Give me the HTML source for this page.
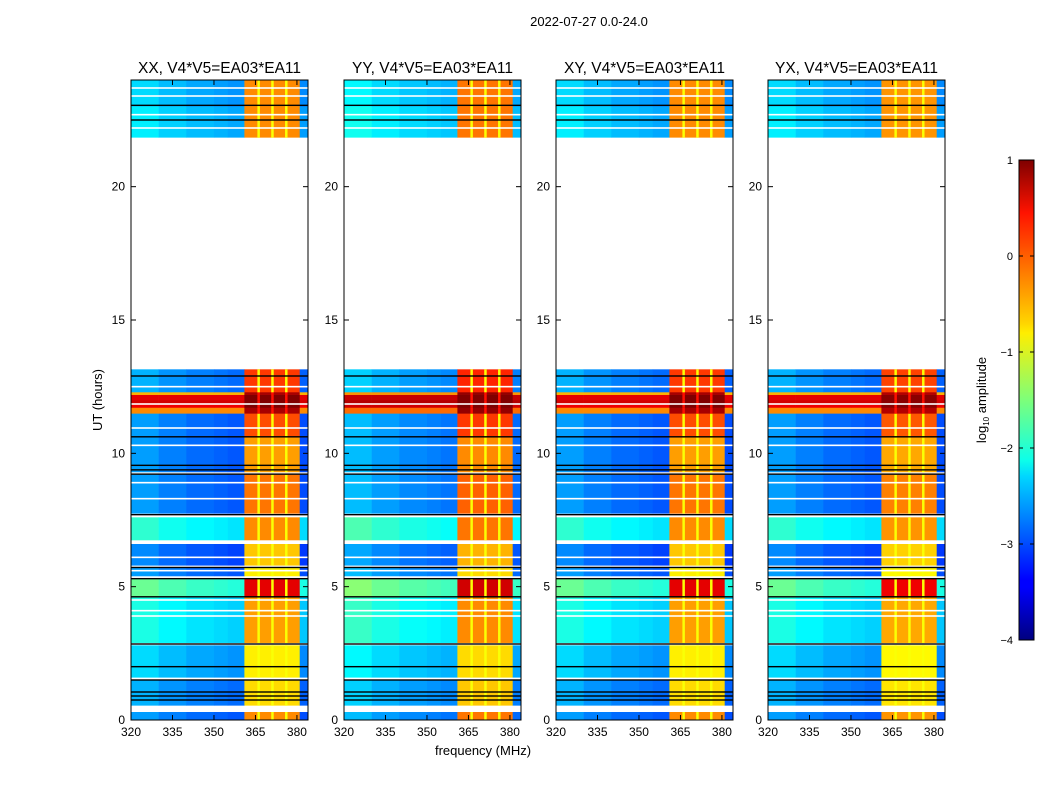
<!DOCTYPE html>
<html><head><meta charset="utf-8"><style>
body{margin:0;background:#fff;width:1050px;height:800px;overflow:hidden;font-family:"Liberation Sans",sans-serif}
svg text{font-family:"Liberation Sans",sans-serif;fill:#000}
</style></head><body>
<svg id="fig" width="1050" height="800" xmlns="http://www.w3.org/2000/svg">
<defs><linearGradient id="jetg" x1="0" y1="1" x2="0" y2="0">
<stop offset="0" stop-color="#00007f"/><stop offset="0.11" stop-color="#0000ff"/><stop offset="0.125" stop-color="#0000ff"/>
<stop offset="0.34" stop-color="#00d5ff"/><stop offset="0.375" stop-color="#0dffe9"/><stop offset="0.5" stop-color="#7dff7a"/>
<stop offset="0.64" stop-color="#ffee00"/><stop offset="0.66" stop-color="#ffd500"/><stop offset="0.89" stop-color="#ff1300"/><stop offset="1" stop-color="#7f0000"/>
</linearGradient></defs>
<text x="589" y="26" font-size="13" text-anchor="middle">2022-07-27 0.0-24.0</text>
<text x="483" y="755" font-size="13" text-anchor="middle">frequency (MHz)</text>
<text x="102" y="400" font-size="13" text-anchor="middle" transform="rotate(-90 102 400)">UT (hours)</text>
<g id="panels"></g>
<g>
<rect x="1019" y="160" width="15" height="480" fill="url(#jetg)" stroke="#000" stroke-width="1"/>
<g id="cbticks"></g>
<text x="986" y="400" font-size="13" text-anchor="middle" transform="rotate(-90 986 400)">log<tspan font-size="8" dy="3">10</tspan><tspan dy="-3"> amplitude</tspan></text>
</g>
</svg>
<script>
// ---- data ----
const panelTitles=["XX, V4*V5=EA03*EA11","YY, V4*V5=EA03*EA11","XY, V4*V5=EA03*EA11","YX, V4*V5=EA03*EA11"];
const panelLeft=[131,344,556,768];
const rfiOffset=[0,0.1,0,-0.05];
const bgOffset=[0,0.15,0,0];
// time segments (hours): start, end, background log-amp, rfi log-amp
const segStart=[0.0,0.55,1.6,2.9,4.6,5.4,5.8,6.75,7.75,9.3,10.6,11.5,11.72,11.85,12.0,12.2,12.3,21.85,23.0];
const segEnd  =[0.3,1.5,2.8,4.6,5.3,5.7,6.6,7.6,9.2,10.6,11.5,11.72,11.85,12.0,12.2,12.3,13.15,23.0,24.0];
const segBg   =[-2.8,-2.7,-2.5,-2.2,-1.8,-2.8,-2.9,-2.1,-2.8,-2.8,-2.8,-0.3,0.45,0.6,0.5,-0.5,-2.7,-2.4,-2.5];
const segRfi  =[-0.3,-0.7,-0.8,-0.4,0.5,-0.8,-0.6,-0.3,-0.2,-0.4,0.0,0.8,1.0,1.0,1.0,0.8,0.1,-0.3,-0.3];
// flagged (black) rows, hours
const blackRows=[0.75,0.9,1.05,1.5,2.0,2.85,4.62,5.3,5.72,7.7,9.22,9.38,9.55,10.62,12.9,22.5,23.05];
// blank (white) rows, hours
const whiteRows=[0.45,1.55,2.85,3.9,4.1,4.5,5.6,5.75,6.1,6.7,7.68,8.3,8.9,10.3,10.95,11.85,12.5,22.2,22.7,23.4,23.7];
// channel profile: frequency bin starts (MHz) and additive offsets for background
const chanStart=[320,330,340,350,355,361,366,371,376,381];
const chanBgOff=[0.2,0.05,-0.05,-0.1,-0.15,0,0,0,0,-0.2];
const chanIsRfi=[0,0,0,0,0,1,1,1,1,0];
const rfiGapFreq=[365.7,370.7,375.7];
const xTicks=[320,335,350,365,380];
const yTicks=[0,5,10,15,20];
const cbTicks=[1,0,-1,-2,-3,-4];
// ---- scales ----
const PW=177,PT=80,PH=640,fMin=320,fMax=384;
const yS=h=>PT+PH-h/24*PH;
const xS=(L,f)=>L+(f-fMin)/(fMax-fMin)*PW;
function jet(v){let t=(v+4)/5;t=Math.max(0,Math.min(1,t));
 const c=x=>Math.round(255*Math.max(0,Math.min(1,1.5-Math.abs(4*t-x))));
 return `rgb(${c(3)},${c(2)},${c(1)})`;}
const NS="http://www.w3.org/2000/svg";
function mk(tag,attrs,parent){const e=document.createElementNS(NS,tag);for(const k in attrs)e.setAttribute(k,attrs[k]);parent.appendChild(e);return e;}
const panelsG=document.getElementById('panels');
panelTitles.forEach((title,p)=>{
 const L=panelLeft[p];
 const g=mk('g',{},panelsG);
 
 
 const hm=mk('g',{},g);
 
 
 for(let s=0;s<segStart.length;s++){
  const y0=yS(segEnd[s]),y1=yS(segStart[s]);
  const band=segBg[s]>-1;
  for(let c=0;c<chanStart.length;c++){
   const f0=chanStart[c],f1=c+1<chanStart.length?chanStart[c+1]:fMax;
   const v=chanIsRfi[c]?segRfi[s]+rfiOffset[p]:segBg[s]+bgOffset[p]+(band?0:chanBgOff[c]);
   const r=mk('rect',{x:xS(L,f0),y:y0,width:xS(L,f1)-xS(L,f0)+0.3,height:y1-y0+0.3,fill:jet(v)},hm);
   
   
  }
  rfiGapFreq.forEach(f=>{
   const r=mk('rect',{x:xS(L,f),y:y0,width:2.5,height:y1-y0+0.3,fill:jet(band?0.3:Math.min(segRfi[s]+rfiOffset[p],-0.9))},hm);
   
   
  });
 }
 whiteRows.forEach(h=>{
  const r=mk('rect',{x:L,y:yS(h)-0.8,width:PW,height:1.6,fill:'#fff'},hm);
  
  
 });
 blackRows.forEach(h=>{
  const r=mk('rect',{x:L,y:yS(h)-0.7,width:PW,height:1.4,fill:'#000'},hm);
  
  
 });
 mk('rect',{x:L,y:PT,width:PW,height:PH,fill:'none',stroke:'#000','stroke-width':1},g);
 xTicks.forEach(f=>{const x=xS(L,f);
  mk('line',{x1:x,x2:x,y1:PT+PH,y2:PT+PH-5,stroke:'#000'},g);
  mk('line',{x1:x,x2:x,y1:PT,y2:PT+5,stroke:'#000'},g);
  const t=mk('text',{x:x,y:PT+PH+16,'font-size':12,'text-anchor':'middle'},g);t.textContent=f;
  
  });
 yTicks.forEach(h=>{const y=yS(h);
  mk('line',{x1:L,x2:L+5,y1:y,y2:y,stroke:'#000'},g);
  mk('line',{x1:L+PW,x2:L+PW-5,y1:y,y2:y,stroke:'#000'},g);
  const t=mk('text',{x:L-6,y:y+4,'font-size':12,'text-anchor':'end'},g);t.textContent=h;
  
  });
 const tt=mk('text',{x:L+PW/2,y:73,'font-size':15.5,'text-anchor':'middle'},g);tt.textContent=title;
 
 
});
const CB=document.getElementById('cbticks');
cbTicks.forEach(v=>{const y=160+(1-v)/5*480;
 mk('line',{x1:1019,x2:1023,y1:y,y2:y,stroke:'#000'},CB);
 mk('line',{x1:1034,x2:1030,y1:y,y2:y,stroke:'#000'},CB);
 const t=mk('text',{x:1013,y:y+4,'font-size':11,'text-anchor':'end'},CB);t.textContent=v<0?'\u2212'+(-v):v;
 
 });
</script>
</body></html>
